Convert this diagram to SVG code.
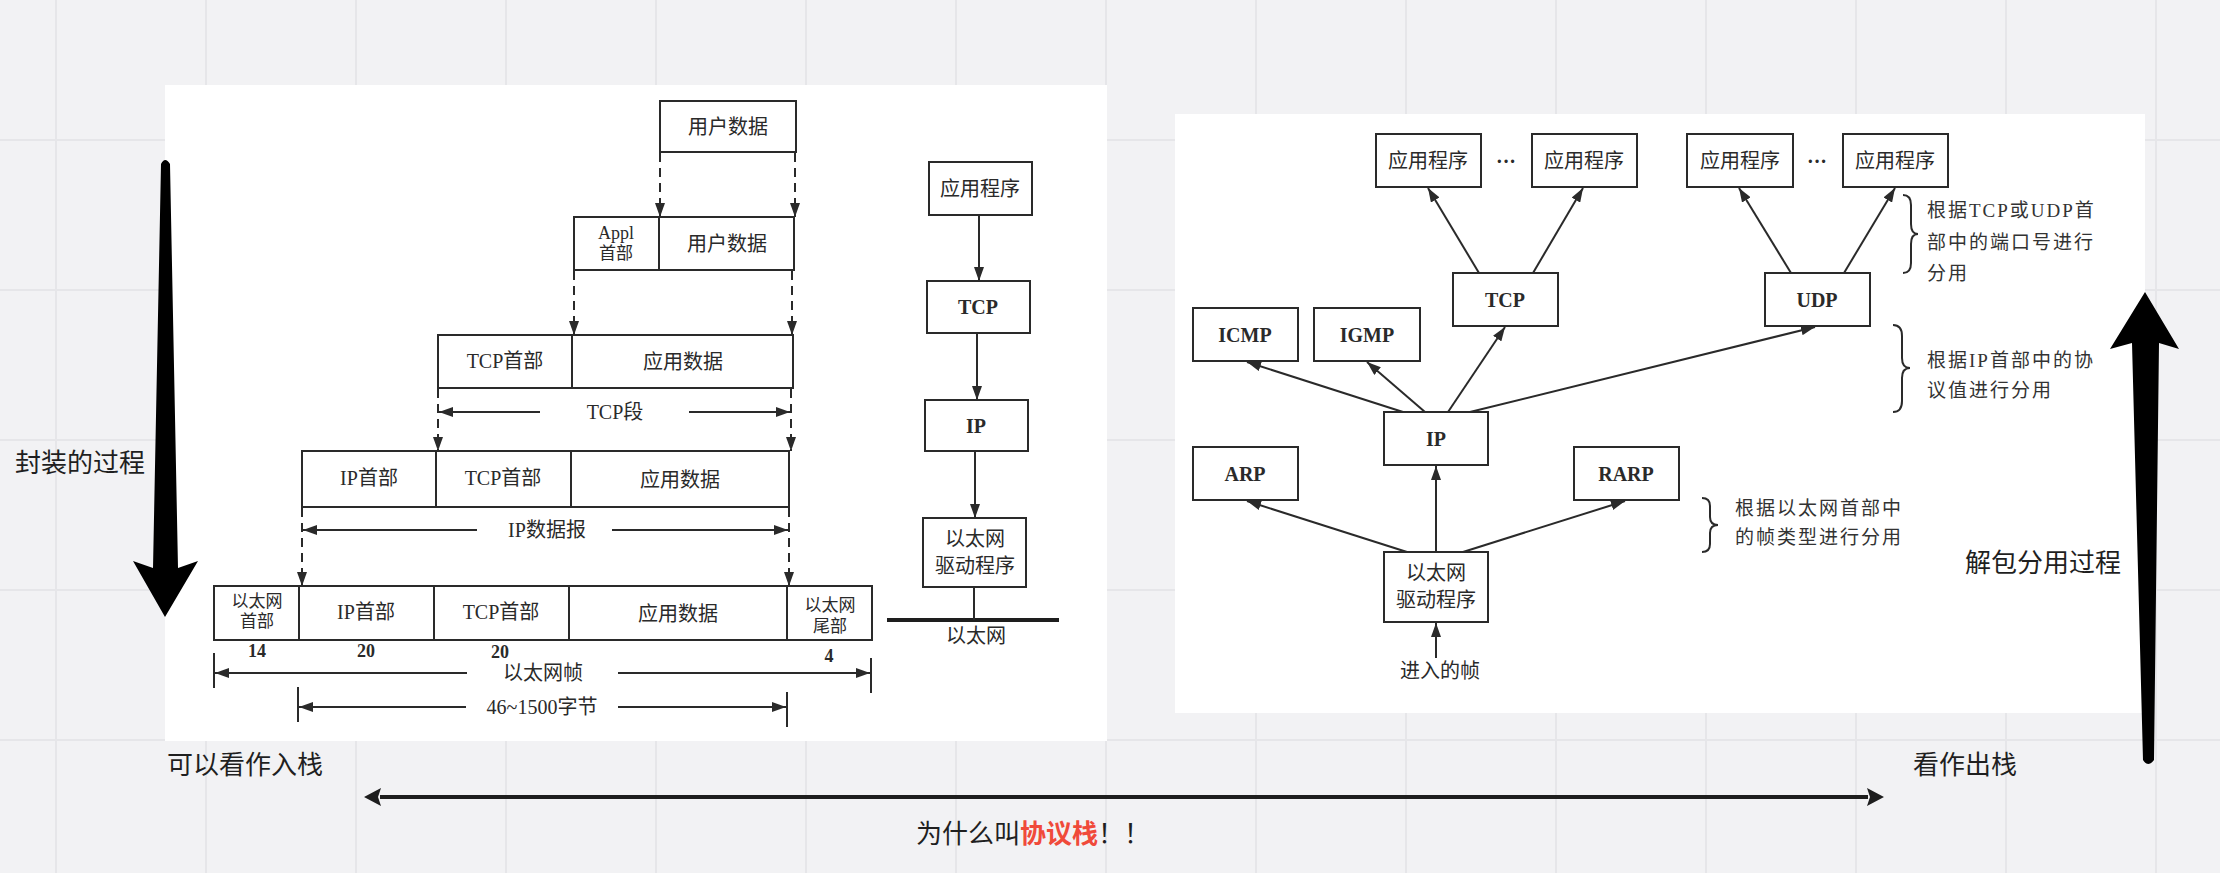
<svg xmlns="http://www.w3.org/2000/svg" width="2220" height="873" viewBox="0 0 2220 873">
<style>
.bg{fill:#f2f2f4}
.grid{stroke:#e6e6e9;stroke-width:2}
.panel{fill:#ffffff}
.box{fill:#ffffff;stroke:#2a2a2a;stroke-width:2}
.div{stroke:#2a2a2a;stroke-width:2}
.t{font-family:"Liberation Serif","Noto Sans CJK SC",serif;fill:#2a2a2a;text-anchor:middle;dominant-baseline:central;font-size:20px}
.tb{font-weight:bold}
.sm{font-size:17px}
.note{font-family:"Liberation Serif","Noto Sans CJK SC",serif;fill:#333;font-size:19px;letter-spacing:2px;dominant-baseline:central}
.ann{font-family:"Noto Sans CJK SC","Noto Sans",sans-serif;fill:#1f1f1f;font-size:26px;dominant-baseline:central}
.dash{stroke:#2a2a2a;stroke-width:2;stroke-dasharray:9 6;fill:none}
.ln{stroke:#2a2a2a;stroke-width:2;fill:none}
.brace{stroke:#2a2a2a;stroke-width:2;fill:none}
.big{fill:#000}
</style>
<defs>
<marker id="ah" viewBox="0 0 14 10" refX="14" refY="5" markerWidth="14" markerHeight="10" markerUnits="userSpaceOnUse" orient="auto"><path d="M0,0 L14,5 L0,10 z" fill="#2a2a2a"/></marker>
</defs>
<rect class="bg" x="0" y="0" width="2220" height="873"/>
<g id="grid">
<line class="grid" x1="56" y1="0" x2="56" y2="873"/><line class="grid" x1="206" y1="0" x2="206" y2="873"/><line class="grid" x1="356" y1="0" x2="356" y2="873"/><line class="grid" x1="506" y1="0" x2="506" y2="873"/><line class="grid" x1="656" y1="0" x2="656" y2="873"/><line class="grid" x1="806" y1="0" x2="806" y2="873"/><line class="grid" x1="956" y1="0" x2="956" y2="873"/><line class="grid" x1="1106" y1="0" x2="1106" y2="873"/><line class="grid" x1="1256" y1="0" x2="1256" y2="873"/><line class="grid" x1="1406" y1="0" x2="1406" y2="873"/><line class="grid" x1="1556" y1="0" x2="1556" y2="873"/><line class="grid" x1="1706" y1="0" x2="1706" y2="873"/><line class="grid" x1="1856" y1="0" x2="1856" y2="873"/><line class="grid" x1="2006" y1="0" x2="2006" y2="873"/><line class="grid" x1="2156" y1="0" x2="2156" y2="873"/>
<line class="grid" x1="0" y1="140" x2="2220" y2="140"/><line class="grid" x1="0" y1="290" x2="2220" y2="290"/><line class="grid" x1="0" y1="440" x2="2220" y2="440"/><line class="grid" x1="0" y1="590" x2="2220" y2="590"/><line class="grid" x1="0" y1="740" x2="2220" y2="740"/>
</g>
<rect class="panel" x="165" y="85" width="942" height="656"/>
<rect class="panel" x="1175" y="114" width="970" height="599"/>

<!-- Left panel: encapsulation -->
<g id="userdata">
<rect class="box" x="660" y="101" width="136" height="51"/>
<text class="t" x="728" y="127">用户数据</text>
</g>
<g id="appl-frame">
<rect class="box" x="574" y="217" width="220" height="53"/>
<line class="div" x1="659" y1="217" x2="659" y2="270"/>
<text class="t" x="616" y="233" style="font-size:18px">Appl</text>
<text class="t sm" x="616" y="253">首部</text>
<text class="t" x="727" y="244">用户数据</text>
</g>
<g id="tcp-segment">
<rect class="box" x="438" y="335" width="355" height="53"/>
<line class="div" x1="572" y1="335" x2="572" y2="388"/>
<text class="t" x="505" y="361">TCP首部</text>
<text class="t" x="683" y="362">应用数据</text>
<text class="t" x="615" y="412">TCP段</text>
</g>
<g id="ip-datagram">
<rect class="box" x="302" y="451" width="487" height="56"/>
<line class="div" x1="436" y1="451" x2="436" y2="507"/>
<line class="div" x1="571" y1="451" x2="571" y2="507"/>
<text class="t" x="369" y="478">IP首部</text>
<text class="t" x="503" y="478">TCP首部</text>
<text class="t" x="680" y="480">应用数据</text>
<text class="t" x="547" y="530">IP数据报</text>
</g>
<g id="eth-frame">
<rect class="box" x="214" y="586" width="658" height="54"/>
<line class="div" x1="299" y1="586" x2="299" y2="640"/>
<line class="div" x1="434" y1="586" x2="434" y2="640"/>
<line class="div" x1="569" y1="586" x2="569" y2="640"/>
<line class="div" x1="787" y1="586" x2="787" y2="640"/>
<text class="t sm" x="257" y="601">以太网</text>
<text class="t sm" x="257" y="621">首部</text>
<text class="t" x="366" y="612">IP首部</text>
<text class="t" x="501" y="612">TCP首部</text>
<text class="t" x="678" y="614">应用数据</text>
<text class="t sm" x="830" y="605">以太网</text>
<text class="t sm" x="830" y="626">尾部</text>
<text class="t tb" x="257" y="651" style="font-size:18px">14</text>
<text class="t tb" x="366" y="651" style="font-size:18px">20</text>
<text class="t tb" x="500" y="652" style="font-size:18px">20</text>
<text class="t tb" x="829" y="656" style="font-size:18px">4</text>
<text class="t" x="543" y="673">以太网帧</text>
<text class="t" x="542" y="707">46~1500字节</text>
</g>

<!-- Left panel: stack -->
<g id="l-app"><rect class="box" x="929" y="162" width="103" height="53"/><text class="t" x="980" y="189">应用程序</text></g>
<g id="l-tcp"><rect class="box" x="927" y="281" width="103" height="52"/><text class="t tb" x="978" y="307">TCP</text></g>
<g id="l-ip"><rect class="box" x="925" y="400" width="103" height="51"/><text class="t tb" x="976" y="426">IP</text></g>
<g id="l-drv"><rect class="box" x="923" y="518" width="103" height="69"/><text class="t" x="975" y="539">以太网</text><text class="t" x="975" y="566">驱动程序</text></g>
<g id="l-eth"><line x1="887" y1="620" x2="1059" y2="620" stroke="#1e1e1e" stroke-width="4"/><text class="t" x="976" y="636">以太网</text></g>

<!-- Right panel nodes -->
<g id="r-app1"><rect class="box" x="1376" y="134" width="105" height="53"/><text class="t" x="1428" y="161">应用程序</text></g>
<g id="r-dots1"><text class="t tb" x="1506" y="161">···</text></g>
<g id="r-app2"><rect class="box" x="1532" y="134" width="105" height="53"/><text class="t" x="1584" y="161">应用程序</text></g>
<g id="r-app3"><rect class="box" x="1687" y="134" width="106" height="53"/><text class="t" x="1740" y="161">应用程序</text></g>
<g id="r-dots2"><text class="t tb" x="1817" y="161">···</text></g>
<g id="r-app4"><rect class="box" x="1843" y="134" width="105" height="53"/><text class="t" x="1895" y="161">应用程序</text></g>
<g id="r-tcp"><rect class="box" x="1453" y="273" width="105" height="53"/><text class="t tb" x="1505" y="300">TCP</text></g>
<g id="r-udp"><rect class="box" x="1765" y="273" width="105" height="53"/><text class="t tb" x="1817" y="300">UDP</text></g>
<g id="r-icmp"><rect class="box" x="1193" y="308" width="105" height="53"/><text class="t tb" x="1245" y="335">ICMP</text></g>
<g id="r-igmp"><rect class="box" x="1314" y="308" width="106" height="53"/><text class="t tb" x="1367" y="335">IGMP</text></g>
<g id="r-ip"><rect class="box" x="1384" y="412" width="104" height="53"/><text class="t tb" x="1436" y="439">IP</text></g>
<g id="r-arp"><rect class="box" x="1193" y="447" width="105" height="53"/><text class="t tb" x="1245" y="474">ARP</text></g>
<g id="r-rarp"><rect class="box" x="1574" y="447" width="105" height="53"/><text class="t tb" x="1626" y="474">RARP</text></g>
<g id="r-drv"><rect class="box" x="1384" y="552" width="104" height="70"/><text class="t" x="1436" y="573">以太网</text><text class="t" x="1436" y="600">驱动程序</text></g>
<g id="r-in"><text class="t" x="1440" y="671">进入的帧</text></g>
<g id="r-note1">
<path class="brace" d="M1903,195 Q1911,195 1911,205 L1911,224 Q1911,234 1918,234 Q1911,234 1911,244 L1911,263 Q1911,273 1903,273"/>
<text class="note" x="1927" y="210">根据TCP或UDP首</text>
<text class="note" x="1927" y="242">部中的端口号进行</text>
<text class="note" x="1927" y="273">分用</text>
</g>
<g id="r-note2">
<path class="brace" d="M1893,325 Q1902,325 1902,336 L1902,358 Q1902,368 1910,368 Q1902,368 1902,378 L1902,401 Q1902,412 1893,412"/>
<text class="note" x="1927" y="360">根据IP首部中的协</text>
<text class="note" x="1927" y="390">议值进行分用</text>
</g>
<g id="r-note3">
<path class="brace" d="M1702,498 Q1710,498 1710,506 L1710,517 Q1710,525 1718,525 Q1710,525 1710,533 L1710,544 Q1710,552 1702,552"/>
<text class="note" x="1735" y="508">根据以太网首部中</text>
<text class="note" x="1735" y="537">的帧类型进行分用</text>
</g>

<!-- Annotations -->
<g id="encap-label"><text class="ann" x="15" y="460">封装的过程</text></g>
<g id="encap-arrow"><path class="big" d="M161,164 Q165,156 170,164 L178,568 L198,561 L165,617 L133,561 L153,568 Z"/></g>
<g id="demux-label"><text class="ann" x="1965" y="560">解包分用过程</text></g>
<g id="demux-arrow"><path class="big" d="M2143,760 Q2148,768 2154,760 L2159,343 L2179,349 L2145,292 L2110,349 L2132,343 Z"/></g>
<g id="push-label"><text class="ann" x="167" y="762">可以看作入栈</text></g>
<g id="pop-label"><text class="ann" x="1913" y="762">看作出栈</text></g>
<g id="why-label"><text class="ann" x="916" y="831">为什么叫<tspan fill="#f04a3a" font-weight="bold">协议栈</tspan>！！</text></g>

<g id="connectors">
<line class="dash" x1="660" y1="153" x2="660" y2="217" marker-end="url(#ah)"/>
<line class="dash" x1="795" y1="153" x2="795" y2="217" marker-end="url(#ah)"/>
<line class="dash" x1="574" y1="271" x2="574" y2="335" marker-end="url(#ah)"/>
<line class="dash" x1="792" y1="271" x2="792" y2="335" marker-end="url(#ah)"/>
<line class="dash" x1="438" y1="389" x2="438" y2="451" marker-end="url(#ah)"/>
<line class="dash" x1="791" y1="389" x2="791" y2="451" marker-end="url(#ah)"/>
<line class="dash" x1="302" y1="508" x2="302" y2="586" marker-end="url(#ah)"/>
<line class="dash" x1="789" y1="508" x2="789" y2="586" marker-end="url(#ah)"/>
<line class="ln" x1="540" y1="412" x2="439" y2="412" marker-end="url(#ah)"/>
<line class="ln" x1="689" y1="412" x2="790" y2="412" marker-end="url(#ah)"/>
<line class="ln" x1="477" y1="530" x2="303" y2="530" marker-end="url(#ah)"/>
<line class="ln" x1="612" y1="530" x2="788" y2="530" marker-end="url(#ah)"/>
<line class="ln" x1="214" y1="653" x2="214" y2="688"/>
<line class="ln" x1="871" y1="658" x2="871" y2="693"/>
<line class="ln" x1="467" y1="673" x2="215" y2="673" marker-end="url(#ah)"/>
<line class="ln" x1="618" y1="673" x2="870" y2="673" marker-end="url(#ah)"/>
<line class="ln" x1="298" y1="687" x2="298" y2="722"/>
<line class="ln" x1="787" y1="692" x2="787" y2="727"/>
<line class="ln" x1="466" y1="707" x2="299" y2="707" marker-end="url(#ah)"/>
<line class="ln" x1="618" y1="707" x2="786" y2="707" marker-end="url(#ah)"/>
<line class="ln" x1="979" y1="215" x2="979" y2="281" marker-end="url(#ah)"/>
<line class="ln" x1="977" y1="333" x2="977" y2="400" marker-end="url(#ah)"/>
<line class="ln" x1="975" y1="451" x2="975" y2="518" marker-end="url(#ah)"/>
<line class="ln" x1="974" y1="587" x2="974" y2="620"/>
<line class="ln" x1="1479" y1="273" x2="1428" y2="188" marker-end="url(#ah)"/>
<line class="ln" x1="1533" y1="273" x2="1583" y2="188" marker-end="url(#ah)"/>
<line class="ln" x1="1791" y1="273" x2="1739" y2="188" marker-end="url(#ah)"/>
<line class="ln" x1="1844" y1="273" x2="1895" y2="188" marker-end="url(#ah)"/>
<line class="ln" x1="1403" y1="412" x2="1247" y2="362" marker-end="url(#ah)"/>
<line class="ln" x1="1425" y1="412" x2="1367" y2="362" marker-end="url(#ah)"/>
<line class="ln" x1="1448" y1="412" x2="1505" y2="327" marker-end="url(#ah)"/>
<line class="ln" x1="1470" y1="412" x2="1815" y2="327" marker-end="url(#ah)"/>
<line class="ln" x1="1407" y1="552" x2="1247" y2="501" marker-end="url(#ah)"/>
<line class="ln" x1="1436" y1="552" x2="1436" y2="466" marker-end="url(#ah)"/>
<line class="ln" x1="1463" y1="552" x2="1625" y2="501" marker-end="url(#ah)"/>
<line class="ln" x1="1436" y1="658" x2="1436" y2="623" marker-end="url(#ah)"/>
<line x1="380" y1="797" x2="1868" y2="797" stroke="#1e1e1e" stroke-width="4"/>
<path d="M364,797 L381,788 L378,797 L381,806 Z" fill="#1e1e1e"/>
<path d="M1884,797 L1867,788 L1870,797 L1867,806 Z" fill="#1e1e1e"/>
</g>
</svg>
